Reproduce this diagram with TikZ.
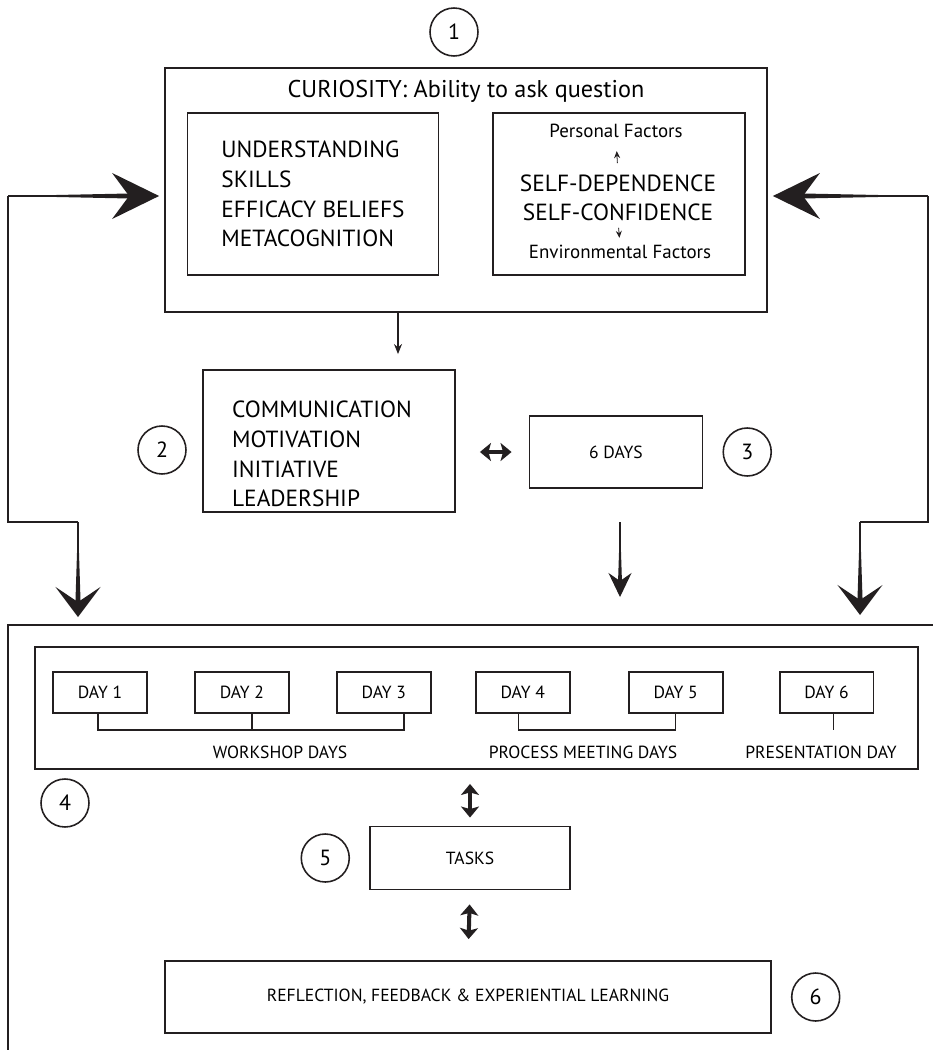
\documentclass[tikz,border=0pt]{standalone}
\usepackage{fontspec}
\setmainfont{PT Sans}
\usetikzlibrary{arrows.meta,positioning,calc}
\definecolor{inkgray}{RGB}{35,31,32}
\newcommand{\bigtxt}{\fontsize{13.3}{17}\selectfont}
\newcommand{\titletxt}{\fontsize{13.8}{16}\selectfont}
\newcommand{\smalltxt}{\fontsize{10}{12}\selectfont}
\newcommand{\factortxt}{\fontsize{10.8}{12}\selectfont}
\tikzset{
  frame/.style={
    draw=inkgray,
    line width=1.1pt,
    inner sep=0pt
  },
  daybox/.style={frame, minimum width=1.88cm, minimum height=0.82cm, font=\smalltxt},
  numcirc/.style={circle, draw=inkgray, line width=0.9pt, minimum size=0.96cm, inner sep=0pt, font=\fontsize{12.5}{14}\selectfont},
  link/.style={draw=inkgray, line width=0.85pt},
  taper/.style={fill=inkgray},
  tinyarrow/.style={draw=inkgray, line width=0.45pt, -{Stealth[length=1.4mm, width=1.2mm]}},
  smallarrow/.style={draw=inkgray, line width=0.7pt, -{Stealth[length=2mm, width=1.6mm]}},
  midarrow/.style={draw=inkgray, line width=0.6pt, -{Stealth[length=0.48cm, width=0.46cm, inset=0.16cm]}},
  sidearrow/.style={draw=inkgray, line width=0.85pt, -{Stealth[length=0.94cm, width=0.92cm, inset=0.34cm]}},
  downarrow/.style={draw=inkgray, line width=0.85pt, -{Stealth[length=0.6cm, width=0.9cm, inset=0.3cm]}},
  dblarrow/.style={draw=inkgray, line width=2.3pt, {Stealth[length=0.22cm, width=0.36cm, inset=0.05cm]}-{Stealth[length=0.22cm, width=0.36cm, inset=0.05cm]}}
}

\begin{document}
\begin{tikzpicture}[x=0.02cm, y=-0.02cm, node distance=0.38cm]
  \useasboundingbox (0,0) rectangle (933,1050);

  % curiosity
  \node[numcirc] (c1) at (454,32) {1};
  \node[frame, minimum width=12.04cm, minimum height=4.88cm] (top) at (466,190) {};
  \node[font=\titletxt] (title) at (466,91) {CURIOSITY: Ability to ask question};
  \node[frame, minimum width=5.02cm, minimum height=3.24cm, align=left, font=\bigtxt] (skills) at (313,194) {UNDERSTANDING\\SKILLS\\EFFICACY BELIEFS\\METACOGNITION};
  \node[frame, minimum width=5.04cm, minimum height=3.24cm] (self) at (619,194) {};
  \node[font=\factortxt, inner sep=0pt] (pf) at (616,131) {Personal Factors};
  \node[font=\bigtxt, inner sep=0pt] (sd) at (618,183) {SELF-DEPENDENCE};
  \node[font=\bigtxt, inner sep=0pt] (sc) at (618,212) {SELF-CONFIDENCE};
  \node[font=\factortxt, inner sep=0pt] (ef) at (620,252) {Environmental Factors};
  \draw[tinyarrow, shorten <=0.22cm, shorten >=0.26cm] (sd.north) -- (pf.south);
  \draw[tinyarrow, shorten <=0.14cm, shorten >=0.14cm] (sc.south) -- (ef.north);

  % competences and duration
  \node[frame, minimum width=5.04cm, minimum height=2.84cm] (traits) at (329,441) {};
  \node[font=\bigtxt, align=left] (traitlist) at (322,454) {COMMUNICATION\\MOTIVATION\\INITIATIVE\\LEADERSHIP};
  \node[numcirc] (c2) at (162,450) {2};
  \node[frame, minimum width=3.46cm, minimum height=1.44cm, font=\smalltxt] (sixdays) at (616,452) {6 DAYS};
  \node[numcirc, right=of sixdays] (c3) {3};
  \coordinate (mid) at (398,0);
  \draw[smallarrow, shorten >=0.3cm] (top.south -| mid) -- (traits.north -| mid);
  \draw[dblarrow, shorten <=0.48cm, shorten >=0.34cm] (traits.east |- sixdays) -- (sixdays.west);

  % feedback lines
  \coordinate (otl) at (8,625);
  \coordinate (lside) at (8,196);
  \coordinate (lcorn) at (78,522);
  \coordinate (rside) at (928,196);
  \coordinate (rcorn) at (860,522);
  \coordinate (drop) at (620,522);
  \draw[link] (lside) |- (lcorn);
  \draw[link] (rside) |- (rcorn);
  \draw[sidearrow, shorten >=0.1cm] (lside) -- (top.west |- lside);
  \fill[taper] (lside) -- ($(top.west |- lside)+(-30,-2.6)$) -- ++(0,5.2) -- cycle;
  \draw[sidearrow, shorten >=0.1cm] (rside) -- (top.east |- rside);
  \fill[taper] (rside) -- ($(top.east |- rside)+(30,-2.6)$) -- ++(0,5.2) -- cycle;
  \draw[downarrow, shorten >=0.16cm] (lcorn) -- (lcorn |- otl);
  \fill[taper] (lcorn) -- ($(lcorn |- otl)+(-2.6,-22)$) -- ++(5.2,0) -- cycle;
  \draw[downarrow, shorten >=0.2cm] (rcorn) -- (rcorn |- otl);
  \fill[taper] (rcorn) -- ($(rcorn |- otl)+(-2.6,-24)$) -- ++(5.2,0) -- cycle;
  \draw[midarrow, shorten >=0.56cm] (drop) -- (drop |- otl);
  \fill[taper] (drop) -- ($(drop |- otl)+(-2,-42)$) -- ++(4,0) -- cycle;

  % programme
  \draw[frame] (8,1050) -- (otl) -- (933,625);
  \node[frame, minimum width=17.66cm, minimum height=2.44cm] (days) at (476.5,708) {};
  \node[daybox] (d1) at (100,692.5) {DAY 1};
  \node[daybox, right=0.92cm of d1] (d2) {DAY 2};
  \node[daybox, right=0.92cm of d2] (d3) {DAY 3};
  \node[daybox, right=0.86cm of d3] (d4) {DAY 4};
  \node[daybox, right=1.14cm of d4] (d5) {DAY 5};
  \node[daybox, right=1.1cm of d5] (d6) {DAY 6};
  \draw[link] ($(d1.south)+(-2,0)$) -- ++(0,16) -| ($(d3.south)+(20,0)$);
  \draw[link] ($(d2.south)+(10,0)$) -- ++(0,16);
  \draw[link] ($(d4.south)+(-4,0)$) -- ++(0,16) -| (d5.south);
  \draw[link] ($(d6.south)+(7,0)$) -- ++(0,16);
  \node[font=\smalltxt] (ws) at (280,752) {WORKSHOP DAYS};
  \node[font=\smalltxt] (pm) at (583,752) {PROCESS MEETING DAYS};
  \node[font=\smalltxt] (pd) at (821,752) {PRESENTATION DAY};
  \node[numcirc] (c4) at (65,803) {4};

  \node[frame, minimum width=4cm, minimum height=1.26cm, font=\smalltxt] (tasks) at (470,858) {TASKS};
  \node[numcirc, left=of tasks] (c5) {5};
  \node[frame, minimum width=12.12cm, minimum height=1.44cm, font=\smalltxt] (refl) at (468,997) {REFLECTION, FEEDBACK \& EXPERIENTIAL LEARNING};
  \node[numcirc, right=of refl] (c6) {6};
  \draw[dblarrow, shorten <=0.28cm, shorten >=0.16cm] (days.south -| tasks) -- (tasks.north);
  \draw[dblarrow, shorten <=0.28cm, shorten >=0.42cm] (tasks.south) -- (refl.north);
\end{tikzpicture}
\end{document}
